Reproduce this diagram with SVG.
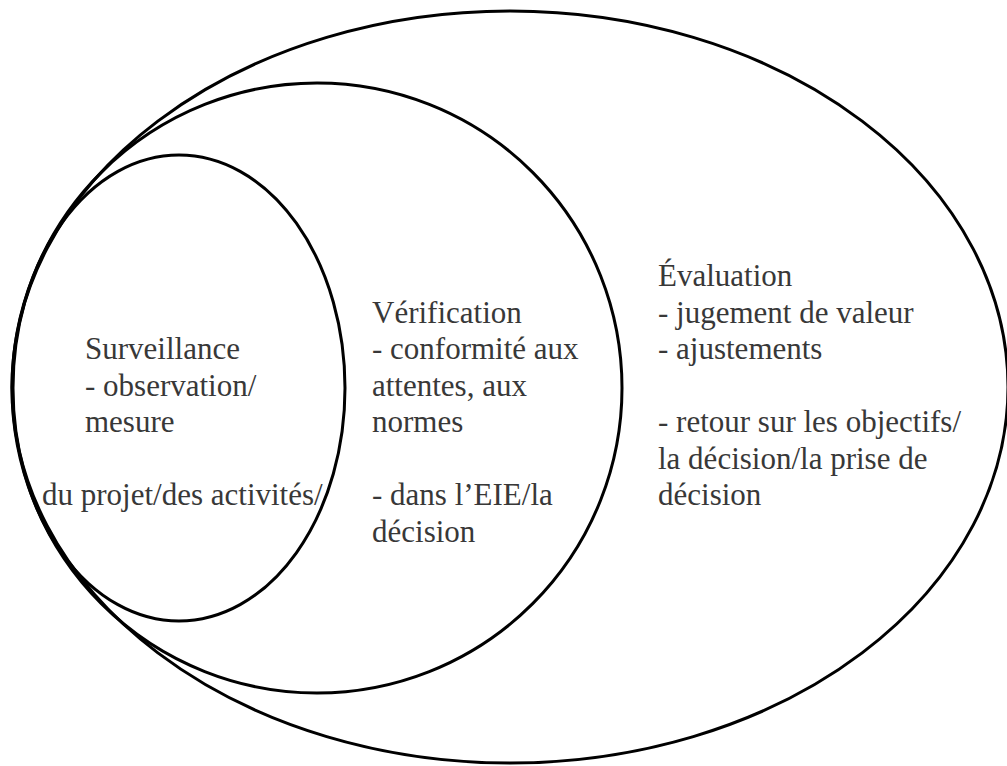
<svg xmlns="http://www.w3.org/2000/svg" width="1007" height="766" viewBox="0 0 1007 766">
<style>
.ring{fill:none;stroke:#000;stroke-width:3}
.t{font-family:'Liberation Serif','Times New Roman',serif;font-size:31px;fill:#383838}
</style>
<rect width="1007" height="766" fill="#fff"/>
<g id="evaluation">
<ellipse class="ring" cx="510" cy="387" rx="498" ry="376"/>
<text class="t" x="658" y="286">Évaluation</text>
<text class="t" x="658" y="322.5">- jugement de valeur</text>
<text class="t" x="658" y="359">- ajustements</text>
<text class="t" x="658" y="432">- retour sur les objectifs/</text>
<text class="t" x="658" y="468.5">la décision/la prise de</text>
<text class="t" x="658" y="505">décision</text>
</g>
<g id="verification">
<ellipse class="ring" cx="317" cy="388" rx="305" ry="305"/>
<text class="t" x="372" y="322.5">Vérification</text>
<text class="t" x="372" y="359">- conformité aux</text>
<text class="t" x="372" y="395.5">attentes, aux</text>
<text class="t" x="372" y="432">normes</text>
<text class="t" x="372" y="505">- dans l’EIE/la</text>
<text class="t" x="372" y="541.5">décision</text>
</g>
<g id="surveillance">
<ellipse class="ring" cx="179" cy="388" rx="166" ry="233"/>
<text class="t" x="85" y="359">Surveillance</text>
<text class="t" x="85" y="395.5">- observation/</text>
<text class="t" x="85" y="432">mesure</text>
<text class="t" x="42" y="505">du projet/des activités/</text>
</g>
<g id="connectors"></g>
</svg>
